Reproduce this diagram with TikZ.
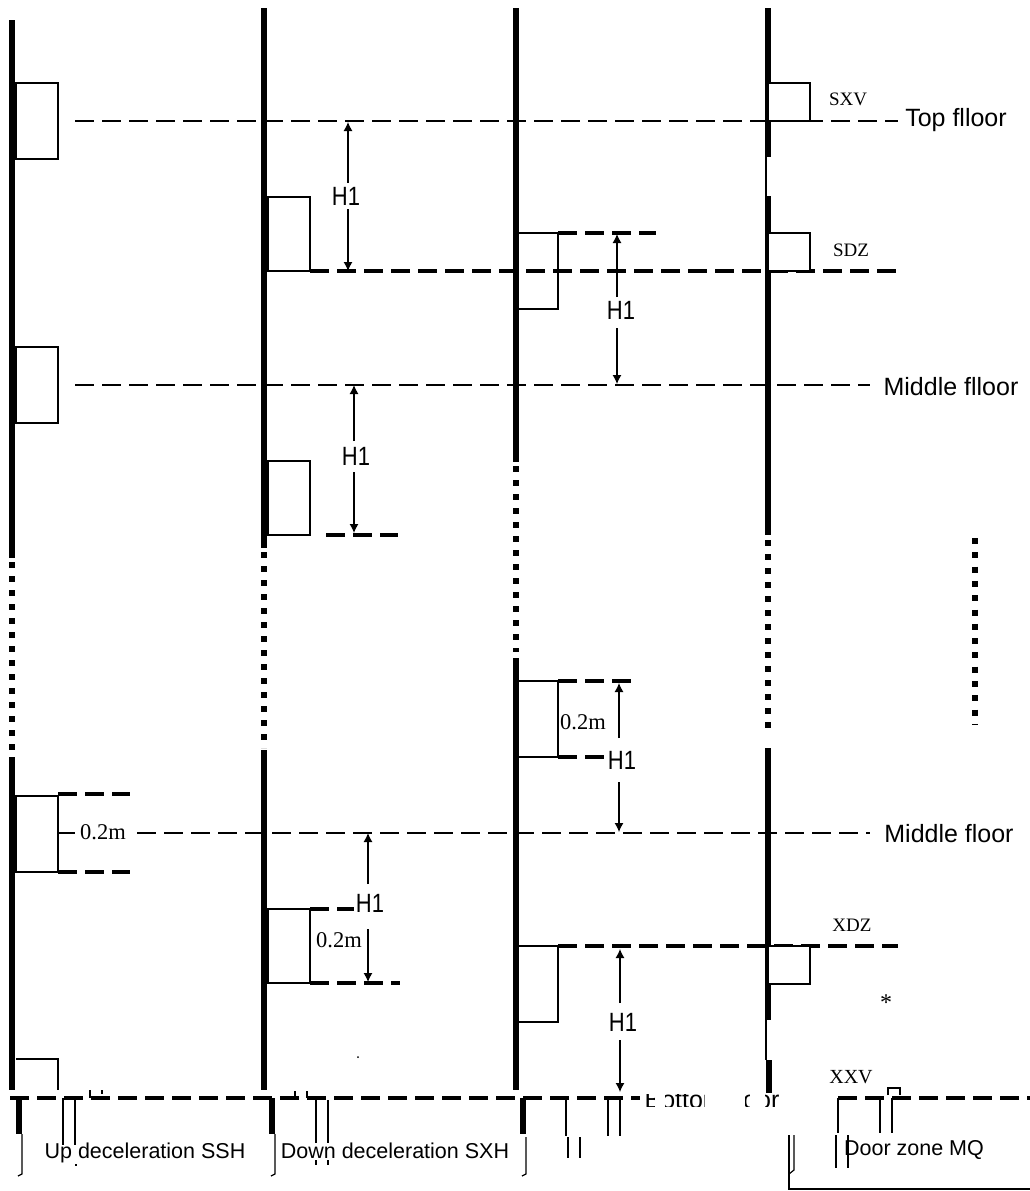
\documentclass[tikz,border=0pt]{standalone}
\usepackage{fontspec}
\usetikzlibrary{arrows.meta}
\setmainfont{Liberation Sans}
\newfontfamily\labelfont{Liberation Serif}
\tikzset{
  rail/.style={line width=5.5pt},
  railthin/.style={line width=1.4pt},
  raildots/.style={line width=5.5pt,dash pattern=on 6pt off 8pt},
  floorline/.style={line width=1.3pt,dash pattern=on 19pt off 8pt},
  zoneline/.style={line width=3.5pt,dash pattern=on 19pt off 8pt},
  tail/.style={line width=1.2pt},
  dimarrow/.style={line width=1.2pt,-{Latex[length=9pt,width=9pt]}},
  floortext/.style={font=\fontsize{25}{25}\selectfont,inner sep=0pt},
  dimtext/.style={font=\fontsize{22}{22}\selectfont,inner sep=0pt,yscale=1.2,transform shape},
  codetext/.style={font=\labelfont\fontsize{19}{19}\selectfont,inner sep=0pt},
  sizetext/.style={font=\labelfont\fontsize{22.5}{22.5}\selectfont,inner sep=0pt},
  signaltext/.style={font=\fontsize{21.5}{21.5}\selectfont,inner sep=0pt},
  cambox/.style={draw,line width=1.2pt,inner sep=0pt,outer sep=0pt,minimum width=42pt,fill=white}
}
\begin{document}
\begin{tikzpicture}[x=1pt,y=-1pt]
  \useasboundingbox (0,0) rectangle (1030,1191);

  % shaft rails
  \draw[rail] (12,20) -- (12,558);
  \draw[raildots] (12,562) -- (12,752);
  \draw[rail] (12,757) -- (12,1090);
  \draw[rail] (264,8) -- (264,548);
  \draw[raildots] (264,552) -- (264,748);
  \draw[rail] (264,750) -- (264,1090);
  \draw[rail] (516,8) -- (516,462);
  \draw[raildots] (516,466) -- (516,652);
  \draw[rail] (516,658) -- (516,1090);
  \draw[rail] (768,8) -- (768,157);
  \draw[railthin] (766,157) -- (766,196);
  \draw[rail] (768,196) -- (768,535);
  \draw[raildots] (768,540) -- (768,730);
  \draw[rail] (768,748) -- (768,1020);
  \draw[railthin] (766,1020) -- (766,1060);
  \draw[raildots,line width=6pt,dash pattern=on 6pt off 8.3pt] (975,538) -- (975,724);

  % floor lines
  \draw[floorline] (75,121) -- (898,121);
  \draw[floorline] (75,385) -- (870,385);
  \draw[tail] (58,833) -- (75,833);
  \draw[floorline] (137,833) -- (870,833);

  % switch levels
  \draw[zoneline] (310,271) -- (898,271);
  \draw[zoneline] (558,233) -- (656,233);
  \draw[zoneline] (326,535) -- (398,535);
  \draw[zoneline] (558,681) -- (632,681);
  \draw[zoneline] (558,757) -- (604,757);
  \draw[zoneline] (58,794) -- (130,794);
  \draw[zoneline] (58,872) -- (130,872);
  \draw[zoneline] (310,909) -- (354,909);
  \draw[zoneline] (310,983) -- (400,983);
  \draw[zoneline] (558,946) -- (898,946);

  % bottom floor line
  \draw[zoneline] (10,1098) -- (640,1098);
  \draw[zoneline] (838,1098) -- (1030,1098);
  \node (bottomfloor) at (712,1100) [floortext] {Bottom floor};
  \fill[white] (636,1084) rectangle (790,1094);
  \fill[white] (636,1107) rectangle (790,1125);
  \fill[white] (655,1094) rectangle (665,1107);
  \fill[white] (705,1094) rectangle (745,1107);
  \fill[white] (750,1094) rectangle (765,1107);
  \draw[rail] (769,1060) -- (769,1093);

  % cams
  \node (upcama) at (37,121) [cambox,minimum height=76pt] {};
  \node (upcamb) at (37,385) [cambox,minimum height=76pt] {};
  \node (upcamc) at (37,834) [cambox,minimum height=76pt] {};
  \draw[line width=1.2pt] (16,1059) -- (58,1059) -- (58,1090);
  \node (downcama) at (289,234) [cambox,minimum height=74pt] {};
  \node (downcamb) at (289,498) [cambox,minimum height=74pt] {};
  \node (downcamc) at (289,946) [cambox,minimum height=74pt] {};
  \node (levelcama) at (538,271) [cambox,minimum height=76pt,minimum width=40pt,fill=none] {};
  \node (levelcamb) at (538,719) [cambox,minimum height=76pt,minimum width=40pt] {};
  \node (levelcamc) at (538,984) [cambox,minimum height=76pt,minimum width=40pt] {};
  \node (doorcama) at (789,102) [cambox,minimum height=38pt] {};
  \node (doorcamb) at (789,252) [cambox,minimum height=38pt] {};
  \node (doorcamc) at (789,965) [cambox,minimum height=38pt] {};

  % distances
  \coordinate (topa) at (348,122);
  \coordinate (zonea) at (348,271);
  \node (heighta) at (346,196) [dimtext] {H1};
  \draw[dimarrow] (348,183) -- (topa);
  \draw[dimarrow] (348,209) -- (zonea);
  \coordinate (zoneb) at (617,234);
  \coordinate (middleb) at (617,384);
  \node (heightb) at (621,310) [dimtext] {H1};
  \draw[dimarrow] (617,297) -- (zoneb);
  \draw[dimarrow] (617,328) -- (middleb);
  \coordinate (middlec) at (354,385);
  \coordinate (zonec) at (354,533);
  \node (heightc) at (356,456) [dimtext] {H1};
  \draw[dimarrow] (354,441) -- (middlec);
  \draw[dimarrow] (354,472) -- (zonec);
  \coordinate (zoned) at (619,683);
  \coordinate (middled) at (619,832);
  \node (heightd) at (622,760) [dimtext] {H1};
  \draw[dimarrow] (619,738) -- (zoned);
  \draw[dimarrow] (619,782) -- (middled);
  \coordinate (middlee) at (368,833);
  \coordinate (zonee) at (368,982);
  \node (heighte) at (370,903) [dimtext] {H1};
  \draw[dimarrow] (368,884) -- (middlee);
  \draw[dimarrow] (368,929) -- (zonee);
  \coordinate (zonef) at (620,949);
  \coordinate (bottomf) at (620,1092);
  \node (heightf) at (623,1022) [dimtext] {H1};
  \draw[dimarrow] (620,1003) -- (zonef);
  \draw[dimarrow] (620,1040) -- (bottomf);

  % floor and switch labels
  \node (topfloor) at (956,120) [floortext] {Top flloor};
  \node (middlefloora) at (951,387) [floortext] {Middle flloor};
  \node (middlefloorb) at (949,834) [floortext] {Middle floor};
  \node (sxv) at (848,99) [codetext] {SXV};
  \node (sdz) at (851,250) [codetext] {SDZ};
  \node (xdz) at (852,925) [codetext] {XDZ};
  \node (xxv) at (851,1077) [codetext,font=\labelfont\fontsize{20}{20}\selectfont] {XXV};
  \node (star) at (886,1003) [codetext,font=\labelfont\fontsize{24}{24}\selectfont] {*};
  \node (sizea) at (103,832) [sizetext] {0.2m};
  \node (sizeb) at (339,940) [sizetext] {0.2m};
  \node (sizec) at (583,722) [sizetext] {0.2m};

  % signal tails
  \draw[rail] (19,1098) -- (19,1134);
  \draw[tail] (22,1134) -- (22,1174) -- (18,1176);
  \draw[rail] (272,1098) -- (272,1134);
  \draw[tail] (275,1134) -- (275,1174) -- (271,1176);
  \draw[rail] (523,1098) -- (523,1134);
  \draw[tail] (526,1137) -- (526,1174) -- (522,1176);
  \draw[tail] (63,1098) -- (63,1145);
  \draw[tail] (75,1100) -- (75,1145);
  \draw[tail] (316,1100) -- (316,1143);
  \draw[tail] (328,1100) -- (328,1143);
  \draw[tail] (76,1164) -- (76,1166);
  \draw[tail] (316,1160) -- (316,1165);
  \draw[tail] (328,1160) -- (328,1165);
  \draw[tail] (90,1090) -- (90,1098);
  \draw[tail] (102,1090) -- (102,1094);
  \draw[tail] (295,1091) -- (295,1098);
  \draw[tail] (307,1091) -- (307,1098);
  \draw[tail] (566,1098) -- (566,1136);
  \draw[tail] (568,1137) -- (568,1158);
  \draw[tail] (580,1137) -- (580,1158);
  \draw[tail] (608,1098) -- (608,1136);
  \draw[tail] (620,1098) -- (620,1136);
  \draw[tail] (838,1098) -- (838,1133);
  \draw[tail] (880,1098) -- (880,1133);
  \draw[tail] (892,1098) -- (892,1133);
  \draw[tail] (836,1135) -- (836,1168);
  \draw[tail] (848,1135) -- (848,1168);
  \draw[tail] (789,1135) -- (789,1189) -- (1030,1189);
  \draw[tail] (794,1135) -- (794,1170) -- (789,1174);
  \draw[tail] (888,1095) -- (888,1088) -- (900,1088) -- (900,1095);
  \fill (358,1057) circle (1pt);

  % signal names
  \node (upsignal) at (145,1153) [signaltext] {Up deceleration SSH};
  \node (downsignal) at (395,1151) [signaltext] {Down deceleration SXH};
  \node (doorsignal) at (914,1150) [signaltext] {Door zone MQ};
\end{tikzpicture}
\end{document}
